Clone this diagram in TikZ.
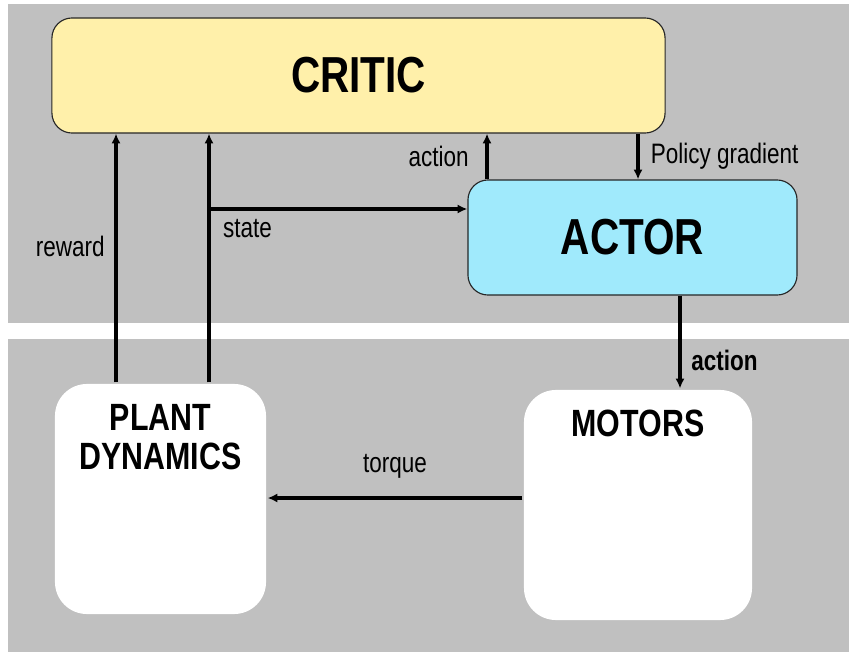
\documentclass[tikz,border=0pt]{standalone}
\usepackage{fontspec}
\setmainfont{Liberation Sans}[FakeStretch=0.8]
\usepackage{xcolor}
\usetikzlibrary{arrows.meta}
\definecolor{panelgray}{HTML}{C0C0C0}
\definecolor{criticyellow}{HTML}{FFF0AA}
\definecolor{actorblue}{HTML}{A0EAFC}

\begin{document}
\begin{tikzpicture}[x=0.025cm, y=-0.025cm, line width=2.2pt, >={Latex[length=7pt,width=6.5pt]}]
\tikzstyle{learner} = [rectangle, rounded corners=0.5cm, draw=black!85, line width=0.8pt, inner sep=0, minimum height=2.875cm, font=\fontsize{36}{40}\selectfont\bfseries]
\tikzstyle{block} = [rectangle, rounded corners=0.8cm, fill=white, inner sep=0, minimum width=5.5cm, minimum height=5.75cm]
\tikzstyle{blocktext} = [anchor=north, inner sep=0, align=center, font=\fontsize{27}{28}\selectfont\bfseries]
\tikzstyle{lbl} = [inner sep=2pt, font=\fontsize{20}{23}\selectfont]
\useasboundingbox (0,0) rectangle (849,657);
% background panels
\fill[panelgray] (8,4) rectangle (849,323);
\fill[panelgray] (8,339) rectangle (849,652);
% boxes
\node[learner, fill=criticyellow, minimum width=15.325cm] (critic) at (358.5,75.5) {CRITIC};
\node[learner, fill=actorblue, minimum width=8.225cm] (actor) at (632.5,237.5) {ACTOR};
\node[block, minimum width=5.275cm] (plant) at (160.5,499) {};
\node[block, minimum width=5.7cm] (motors) at (638,505) {};
\node[blocktext] (plantname) at ([yshift=-0.5cm]plant.north) {PLANT\\DYNAMICS};
\node[blocktext] (motorsname) at ([yshift=-0.5cm]motors.north) {MOTORS};
% connectors
\coordinate (branch) at (209,209);
\draw[->] (plant.north -| 116,0) -- (critic.south -| 116,0) node[lbl, pos=0.548, left=5pt] {reward};
\draw[->] (plant.north -| branch) -- (critic.south -| branch);
\draw[->] (branch) -- (branch -| actor.west) node[lbl, pos=0, anchor=north west, xshift=7pt, yshift=-4pt] {state};
\draw[->] (actor.north -| 487,0) -- (critic.south -| 487,0) node[lbl, midway, left=10pt] {action};
\draw[->] (critic.south -| 638,0) -- (actor.north -| 638,0) node[lbl, midway, right=6pt] {Policy gradient};
\draw[->] (actor.south -| 680,0) -- (motors.north -| 680,0) node[lbl, pos=0.7, right=5pt, font=\fontsize{20}{23}\selectfont\bfseries] {action};
\draw[->] (motors.west |- 0,498) -- (plant.east |- 0,498) node[lbl, midway, above=11pt] {torque};
\end{tikzpicture}
\end{document}
